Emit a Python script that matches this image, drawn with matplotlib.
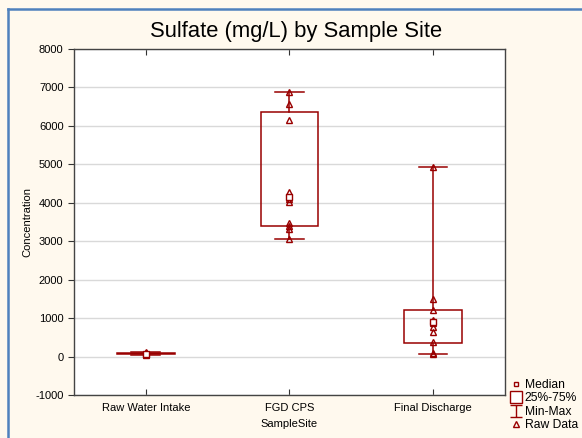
import matplotlib
matplotlib.use("Agg")
import matplotlib.pyplot as plt
from matplotlib.lines import Line2D
from matplotlib.patches import Rectangle
from matplotlib.path import Path

plt.rcParams['font.family'] = ['Liberation Sans', 'DejaVu Sans']
plt.rcParams['axes.unicode_minus'] = False

categories = ["Raw Water Intake", "FGD CPS", "Final Discharge"]
mins    = [40, 3050, 70]
q1s     = [60, 3400, 360]
medians = [70, 4150, 890]
q3s     = [85, 6370, 1200]
maxs    = [110, 6870, 4920]
raw_data = [
    [40, 55, 60, 65, 70, 75, 85, 95, 110],
    [3050, 3330, 3400, 3480, 4020, 4100, 4280, 6150, 6580, 6870],
    [70, 90, 370, 640, 760, 880, 950, 1200, 1490, 4920],
]
yticks = [-1000, 0, 1000, 2000, 3000, 4000, 5000, 6000, 7000, 8000]

RED = "#990000"
BG = "#FFF9EE"

fig = plt.figure(figsize=(5.82, 4.38), dpi=100, facecolor=BG)
ax = fig.add_axes([0.1271, 0.0982, 0.7405, 0.7900])
ax.set_facecolor("white")

positions = [1, 2, 3]
box_w = 0.4
cap_w = 0.2
for p, mn, a, md, b, mx, pts in zip(positions, mins, q1s, medians, q3s, maxs, raw_data):
    ax.add_patch(Rectangle((p - box_w / 2, a), box_w, b - a, fill=False,
                           edgecolor=RED, lw=1.1, zorder=3))
    ax.plot([p, p], [b, mx], color=RED, lw=1.1, zorder=3)
    ax.plot([p, p], [mn, a], color=RED, lw=1.1, zorder=3)
    ax.plot([p - cap_w / 2, p + cap_w / 2], [mx, mx], color=RED, lw=1.1, zorder=3)
    ax.plot([p - cap_w / 2, p + cap_w / 2], [mn, mn], color=RED, lw=1.1, zorder=3)
    ax.plot([p], [md], marker='s', ms=4.5, mfc='white', mec=RED, mew=1.0,
            ls='none', zorder=5)
    ax.plot([p] * len(pts), pts, marker='^', ms=4, mfc='none', mec=RED,
            mew=1.0, ls='none', zorder=4)

ax.set_xlim(0.5, 3.5)
ax.set_ylim(-1000, 8000)
ax.set_yticks(yticks)
ax.set_xticks(positions)
ax.set_xticklabels(categories)
ax.grid(axis='y', color='#d9d9d9', lw=1.0)
ax.set_axisbelow(True)
ax.tick_params(axis='x', direction='in', top=True, length=4, labelsize=8,
               pad=6, colors='#333333', labelcolor='black')
ax.tick_params(axis='y', direction='out', length=4, labelsize=8,
               colors='#333333', labelcolor='black')
for s in ax.spines.values():
    s.set_color('#444444')
    s.set_linewidth(1.0)

ax.set_xlabel("SampleSite", fontsize=8, labelpad=4)
ax.set_ylabel("Concentration", fontsize=8, labelpad=2)
fig.text(0.508, 0.927, "Sulfate (mg/L) by Sample Site", fontsize=15.8,
         ha='center', va='center')

# Legend
ibeam = Path([(-1, 1), (1, 1), (0, 1), (0, -1), (-1, -1), (1, -1)],
             [Path.MOVETO, Path.LINETO, Path.MOVETO, Path.LINETO, Path.MOVETO, Path.LINETO])
handles = [
    Line2D([], [], marker='s', ms=3.5, mfc='white', mec=RED, ls='none', mew=1.0),
    Line2D([], [], marker='s', ms=8, mfc='white', mec=RED, ls='none', mew=1.0),
    Line2D([], [], marker=ibeam, ms=8, mfc='none', mec=RED, ls='none', mew=1.0),
    Line2D([], [], marker='^', ms=4, mfc='none', mec=RED, ls='none', mew=1.0),
]
labels = ["Median", "25%-75%", "Min-Max", "Raw Data"]
fig.legend(handles, labels, loc='upper left', bbox_to_anchor=(0.866, 1 - 373 / 438),
           frameon=False, fontsize=8.7, handlelength=1.0, handletextpad=0.2,
           labelspacing=0.12, borderpad=0.0, handleheight=0.75)

# window frame lines (left and top)
fig.add_artist(Line2D([8 / 582, 8 / 582], [0, 1 - 9 / 438], transform=fig.transFigure,
                      color='#4F81BD', lw=1.8))
fig.add_artist(Line2D([8 / 582, 1], [1 - 9 / 438, 1 - 9 / 438], transform=fig.transFigure,
                      color='#4F81BD', lw=1.8))

fig.savefig("out.png", dpi=100, facecolor=BG)
